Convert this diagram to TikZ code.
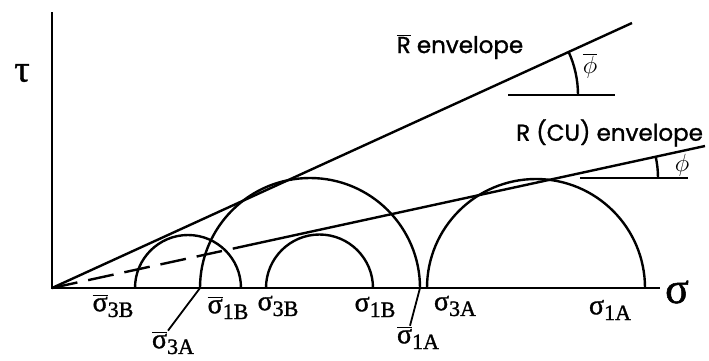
\documentclass[tikz,border=0pt]{standalone}
\usepackage{fontspec}
\setmainfont[UprightFeatures={FakeBold=1.2}]{Liberation Serif}
\newfontfamily\envfont[UprightFeatures={FakeBold=1.2}]{Poppins}
\newcommand{\sgm}[1]{σ\raisebox{-0.45ex}{\fontsize{22}{22}\selectfont #1}}
\newcommand{\sgmbar}[1]{$\overline{\mbox{σ}}$\raisebox{-0.45ex}{\fontsize{22}{22}\selectfont #1}}
\tikzset{
  envlabel/.style={font=\envfont\fontsize{23}{23}\selectfont,inner sep=0pt},
  siglabel/.style={font=\fontsize{28}{28}\selectfont,inner sep=0pt},
  anglabel/.style={font=\fontsize{26}{26}\selectfont,inner sep=0pt}
}
\begin{document}
\begin{tikzpicture}[x=1pt,y=1pt,line width=2.4pt]
\useasboundingbox (-52,-72) rectangle (657,288);
\coordinate (O) at (0,0);
\draw (0,276) -- (O) -- (608,0);
\node[font=\fontsize{38}{38}\selectfont,inner sep=0pt] (tau) at (-30,215) {τ};
\node[font=\fontsize{44}{44}\selectfont,inner sep=0pt] (sigma) at (625,-4) {σ};
% Mohr circles
\foreach \c/\r in {136/53,258/110,267.5/53.5,484/109}
  \draw ({\c-\r},0) arc[start angle=180,end angle=0,radius=\r];
% envelopes
\coordinate (Rbar) at (580,265);
\coordinate (Rcu) at (653,142);
\coordinate (Rcud) at (198,43.1);
\draw (O) -- (Rbar);
\draw[dash pattern=on 26pt off 11pt] (O) -- (Rcud);
\draw (Rcud) -- (Rcu);
% angles
\draw (456,193) -- (563,193);
\draw (526,193) arc[start angle=0,end angle=24.6,radius=104];
\node[anglabel] (phibar) at (538,222) {$\overline{\phi}$};
\draw (528,110) -- (636,110);
\draw (606,110) arc[start angle=0,end angle=12.3,radius=100];
\node[anglabel] (phi) at (630,123) {$\phi$};
\node[envlabel] (Rlab) at (408,241) {$\overline{\mbox{R}}$ envelope};
\node[envlabel,anchor=west] (CUlab) at (463,155) {R (CU) envelope};
% stresses
\node[siglabel] (s3Bbar) at (61,-18) {\sgmbar{3B}};
\node[siglabel] (s1Bbar) at (176,-20) {\sgmbar{1B}};
\node[siglabel] (s3Abar) at (121,-55) {\sgmbar{3A}};
\node[siglabel] (s3B) at (226,-18) {\sgm{3B}};
\node[siglabel] (s1B) at (323,-19) {\sgm{1B}};
\node[siglabel] (s1Abar) at (366,-50) {\sgmbar{1A}};
\node[siglabel] (s3A) at (403,-18) {\sgm{3A}};
\node[siglabel] (s1A) at (558,-22) {\sgm{1A}};
\coordinate (p3A) at (148,0);
\coordinate (p1A) at (368,0);
\draw[line width=1.8pt] (p3A) -- ([xshift=-5pt]s3Abar.north);
\draw[line width=1.8pt] (p1A) -- ([xshift=-8pt]s1Abar.north);
\end{tikzpicture}
\end{document}
